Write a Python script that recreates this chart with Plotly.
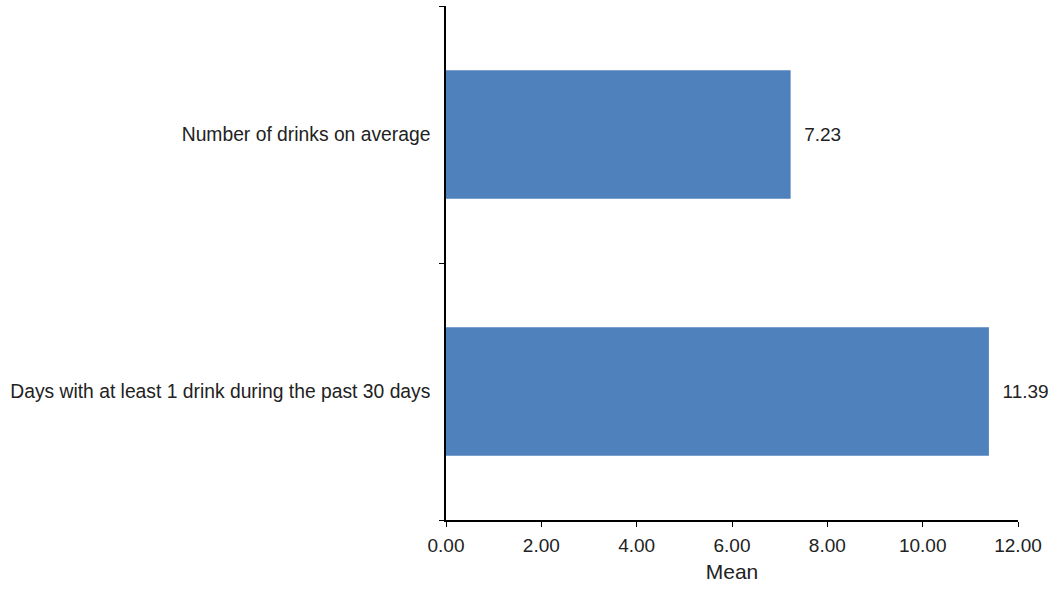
import plotly.graph_objects as go

categories = ["Days with at least 1 drink during the past 30 days", "Number of drinks on average"]
values = [11.39, 7.23]
x_ticks = [0, 2, 4, 6, 8, 10, 12]
x_tick_labels = ["0.00", "2.00", "4.00", "6.00", "8.00", "10.00", "12.00"]

fig = go.Figure(go.Bar(
    y=categories, x=values, orientation="h",
    marker=dict(color="#4F81BD", line=dict(width=0)),
    texttemplate="  %{x:.2f}", textposition="outside",
    textfont=dict(size=19, color="#222222"), cliponaxis=False,
))
fig.update_layout(
    width=1053, height=589,
    margin=dict(l=446, r=35, t=6, b=69),
    paper_bgcolor="white", plot_bgcolor="white",
    font=dict(family="Liberation Sans, Arial, sans-serif", color="#222222"),
    bargap=0.5, showlegend=False,
    xaxis=dict(range=[0, 12], tickvals=x_ticks, ticktext=x_tick_labels,
               showgrid=False, zeroline=False, showline=True, linecolor="black", linewidth=1.5,
               ticks="outside", ticklen=5, tickcolor="black", tickfont=dict(size=19),
               ticklabelstandoff=2,
               title=dict(text="Mean", font=dict(size=21), standoff=10)),
    yaxis=dict(showgrid=False, zeroline=False, showline=True, linecolor="black", linewidth=1.5,
               ticks="outside", ticklen=5, tickcolor="black", tickson="boundaries",
               tickfont=dict(size=19.3), ticklabelstandoff=10),
)
fig.write_html("out.html", config={"displayModeBar": False},
               post_script="document.body.style.margin='0';")
